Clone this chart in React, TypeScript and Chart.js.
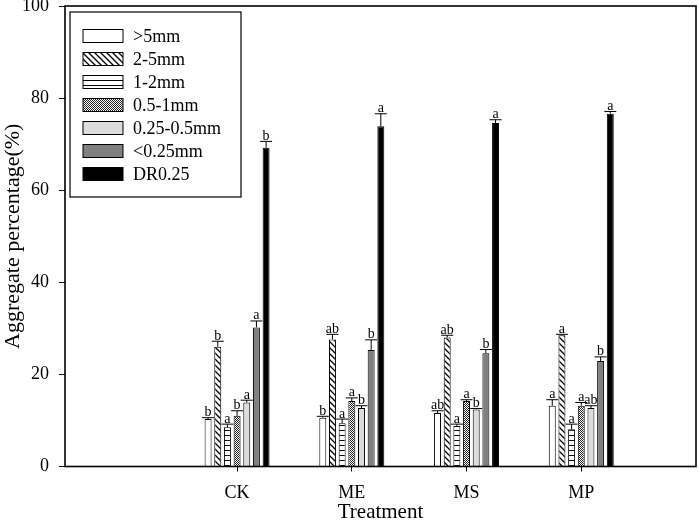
import { useEffect, useRef } from "react";
import { Chart, registerables, type Plugin } from "chart.js";

Chart.register(...registerables);

const FONT = "'Liberation Serif', 'Times New Roman', serif";

const treatments = ["CK", "ME", "MS", "MP"];
const treatmentX = [1, 2, 3, 4];
const sizeClasses = [">5mm", "2-5mm", "1-2mm", "0.5-1mm", "0.25-0.5mm", "<0.25mm", "DR0.25"];

// one row per size class, columns CK, ME, MS, MP
const means = [
  [10.3, 10.6, 11.6, 13.2],
  [26.0, 27.6, 28.0, 28.5],
  [8.5, 9.4, 8.8, 8.1],
  [11.0, 14.2, 14.2, 13.2],
  [13.9, 12.7, 12.4, 12.7],
  [30.2, 25.3, 24.6, 22.9],
  [69.2, 73.9, 74.6, 76.6],
];
const errors = [
  [0.3, 0.3, 0.5, 1.3],
  [1.2, 1.1, 0.5, 0.2],
  [0.7, 0.9, 0.4, 1.1],
  [1.1, 0.7, 0.3, 0.7],
  [0.5, 0.5, 0.2, 0.5],
  [1.4, 2.2, 0.8, 0.9],
  [1.4, 2.7, 0.7, 0.5],
];
const letters = [
  ["b", "b", "ab", "a"],
  ["b", "ab", "ab", "a"],
  ["a", "a", "a", "a"],
  ["b", "a", "a", "a"],
  ["a", "b", "b", "ab"],
  ["a", "b", "b", "b"],
  ["b", "a", "a", "a"],
];
const yTicks = [0, 20, 40, 60, 80, 100];

type Fill = string | CanvasPattern;

function tile(w: number, h: number, draw: (c: CanvasRenderingContext2D) => void): CanvasPattern {
  const cv = document.createElement("canvas");
  cv.width = w;
  cv.height = h;
  const c = cv.getContext("2d")!;
  c.fillStyle = "#fff";
  c.fillRect(0, 0, w, h);
  draw(c);
  return c.createPattern(cv, "repeat")!;
}

function makeFills(): Fill[] {
  const diag = tile(6, 6, (c) => {
    c.strokeStyle = "#000";
    c.lineWidth = 1.3;
    c.beginPath();
    c.moveTo(-1, -1);
    c.lineTo(7, 7);
    c.moveTo(-1, 5);
    c.lineTo(1, 7);
    c.moveTo(5, -1);
    c.lineTo(7, 1);
    c.stroke();
  });
  const horiz = tile(4, 5, (c) => {
    c.fillStyle = "#000";
    c.fillRect(0, 0, 4, 1);
  });
  const dots = tile(2, 2, (c) => {
    c.fillStyle = "#222";
    c.fillRect(0, 0, 1, 1);
    c.fillRect(1, 1, 1, 1);
  });
  return ["#ffffff", diag, horiz, dots, "#dcdcdc", "#808080", "#000000"];
}

const overlay: Plugin<"bar"> = {
  id: "overlay",
  afterDatasetsDraw(chart) {
    const { ctx, chartArea: a } = chart;
    const y = chart.scales.y;
    ctx.save();
    ctx.strokeStyle = "#000";
    ctx.fillStyle = "#000";
    ctx.lineWidth = 1;
    ctx.font = `14px ${FONT}`;
    ctx.textAlign = "center";
    ctx.textBaseline = "alphabetic";
    means.forEach((row, i) => {
      const meta = chart.getDatasetMeta(i);
      meta.data.forEach((bar, j) => {
        const top = y.getPixelForValue(row[j] + errors[i][j]);
        const x = bar.x;
        ctx.beginPath();
        ctx.moveTo(x, bar.y);
        ctx.lineTo(x, top);
        ctx.moveTo(x - 6, top);
        ctx.lineTo(x + 6, top);
        ctx.stroke();
        ctx.fillText(letters[i][j], x, top - 1.5);
      });
    });

    // frame
    ctx.lineWidth = 1.6;
    ctx.strokeRect(a.left, a.top, a.right - a.left, a.bottom - a.top);

    // legend box inside the plot
    const lx = a.left + 5;
    const ly = a.top + 6;
    ctx.lineWidth = 1.2;
    ctx.strokeRect(lx, ly, 171, 185);
    ctx.font = `18px ${FONT}`;
    ctx.textAlign = "left";
    ctx.textBaseline = "middle";
    chart.data.datasets.forEach((ds, i) => {
      const cy = ly + 24 + i * 23;
      ctx.fillStyle = ds.backgroundColor as Fill;
      ctx.fillRect(lx + 13, cy - 6.5, 40, 13);
      ctx.lineWidth = 1;
      ctx.strokeRect(lx + 13, cy - 6.5, 40, 13);
      ctx.fillStyle = "#000";
      ctx.fillText(String(ds.label), lx + 63, cy + 1);
    });
    ctx.restore();
  },
};

export default function App() {
  const canvasRef = useRef<HTMLCanvasElement | null>(null);

  useEffect(() => {
    document.body.style.margin = "0";
    const canvas = canvasRef.current;
    if (!canvas) return;
    const fills = makeFills();

    const chart = new Chart(canvas, {
      type: "bar",
      data: {
        datasets: sizeClasses.map((label, i) => ({
          label,
          data: treatmentX.map((x, j) => ({ x, y: means[i][j] })),
          backgroundColor: fills[i],
          borderColor: "#000",
          borderWidth: 1,
          categoryPercentage: 0.59,
          barPercentage: 0.72,
        })),
      },
      options: {
        animation: false,
        responsive: true,
        maintainAspectRatio: false,
        layout: { padding: { left: 0, right: 3, top: 6, bottom: 0 } },
        plugins: { legend: { display: false }, tooltip: { enabled: false } },
        scales: {
          x: {
            type: "linear",
            min: -0.5,
            max: 5,
            offset: false,
            bounds: "data",
            afterBuildTicks: (s) => {
              s.ticks = treatmentX.map((v) => ({ value: v }));
            },
            afterFit: (s) => {
              s.height = 58.5;
              s.paddingLeft = 0;
              s.paddingRight = 0;
            },
            ticks: {
              autoSkip: false,
              maxRotation: 0,
              padding: 11,
              color: "#000",
              font: { family: FONT, size: 18 },
              callback: (v) => treatments[treatmentX.indexOf(Number(v))] ?? "",
            },
            grid: {
              offset: false,
              drawOnChartArea: false,
              drawTicks: true,
              tickLength: 5,
              color: "#000",
              lineWidth: 1,
            },
            border: { display: false },
            title: {
              display: true,
              text: "Treatment",
              color: "#000",
              font: { family: FONT, size: 21 },
              padding: { top: 0, bottom: 0 },
            },
          },
          y: {
            min: 0,
            max: 100,
            afterBuildTicks: (s) => {
              s.ticks = yTicks.map((v) => ({ value: v }));
            },
            afterFit: (s) => {
              s.width = 65;
              s.paddingTop = 0;
              s.paddingBottom = 0;
            },
            ticks: {
              padding: 10,
              color: "#000",
              font: { family: FONT, size: 18 },
            },
            grid: {
              drawOnChartArea: false,
              drawTicks: true,
              tickLength: 6,
              color: "#000",
              lineWidth: 1,
            },
            border: { display: false },
            title: {
              display: true,
              text: "Aggregate percentage(%)",
              color: "#000",
              font: { family: FONT, size: 22 },
              padding: { top: 0, bottom: 0 },
            },
          },
        },
      },
      plugins: [overlay],
    });

    return () => chart.destroy();
  }, []);

  return (
    <div style={{ width: 699, height: 525, background: "#fff" }}>
      <canvas ref={canvasRef} />
    </div>
  );
}
